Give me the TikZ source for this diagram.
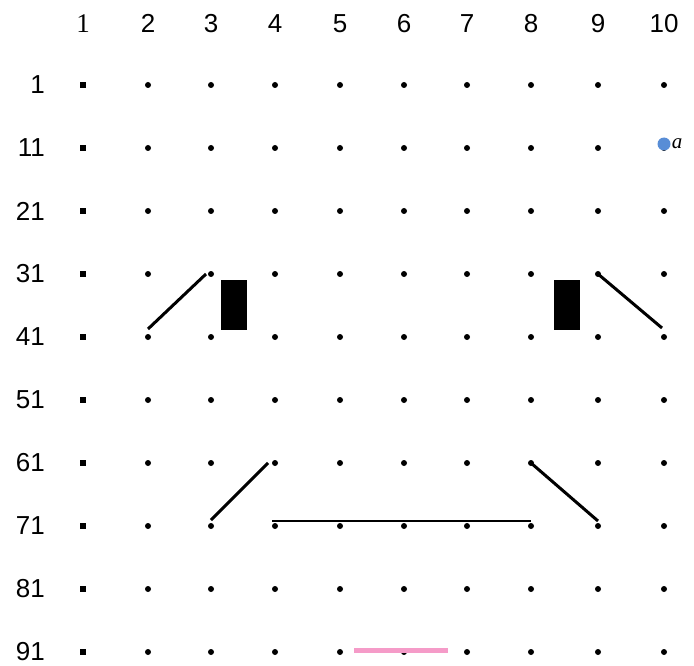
\documentclass[tikz,border=0pt]{standalone}
\usepackage{fontspec}
\setmainfont{Liberation Sans}
\newfontfamily\serifnum{Liberation Serif}
\definecolor{pointblue}{RGB}{88,141,214}
\definecolor{markpink}{RGB}{245,155,200}

\begin{document}
\begin{tikzpicture}[x=1pt,y=-1pt,
		dot/.style={circle,fill,inner sep=0pt,minimum size=6pt},
		sqdot/.style={rectangle,fill,inner sep=0pt,minimum size=6pt},
		num/.style={font=\fontsize{26}{29}\selectfont,inner sep=0pt},
		seg/.style={line width=3pt}]

		\useasboundingbox (0,0) rectangle (694,666);

		% Draw the column numbers
		\node[num,anchor=base,font=\serifnum\fontsize{27}{30}\selectfont] (c-1) at (83,33) {1};
		\foreach \c/\x in {2/148,3/211,4/275,5/340,6/404,7/467,8/531,9/598,10/664} {
				\node[num,anchor=base] (c-\c) at (\x,33) {\c};
			}

		% Draw the row numbers and the grid of dots
		\foreach \r [count=\i from 0] in {1,11,...,91} {
				\node[num,anchor=east] (r-\r) at (45,{85+\i*63}) {\r};
				\node[sqdot] (p-1-\r) at (83,{85+\i*63}) {};
				\foreach \c/\x in {2/148,3/211,4/275,5/340,6/404,7/467,8/531,9/598,10/664} {
						\node[dot] (p-\c-\r) at (\x,{85+\i*63}) {};
					}
			}

		% Eyebrows
		\draw[seg] ([yshift=8pt]p-2-41.center) -- ([xshift=-5pt]p-3-31.center);
		\draw[seg] (p-9-31.center) -- ([xshift=-2pt,yshift=9pt]p-10-41.center);

		% Eyes
		\fill ([xshift=10pt,yshift=-6pt]p-3-31.center) rectangle ([xshift=36pt,yshift=7pt]p-3-41.center);
		\fill ([xshift=23pt,yshift=-6pt]p-8-31.center) rectangle ([xshift=49pt,yshift=7pt]p-8-41.center);

		% Mouth
		\draw[seg] ([yshift=6pt]p-3-71.center) -- ([xshift=-7pt]p-4-61.center);
		\draw[line width=1.8pt] ([xshift=-3pt,yshift=5pt]p-4-71.center) -- ([yshift=5pt]p-8-71.center);
		\draw[seg] (p-8-61.center) -- ([yshift=5pt]p-9-71.center);

		% Pink mark at the bottom
		\draw[markpink,line width=5pt] ([xshift=14pt,yshift=2pt]p-5-91.center) -- ([xshift=-19pt,yshift=2pt]p-7-91.center);

		% Point a
		\node[circle,fill=pointblue,inner sep=0pt,minimum size=13pt] (a) at ([yshift=4pt]p-10-11.center) {};
		\node[right,inner sep=1pt,font=\serifnum\itshape\fontsize{21}{23}\selectfont] at (a.east) {a};
	\end{tikzpicture}
\end{document}
